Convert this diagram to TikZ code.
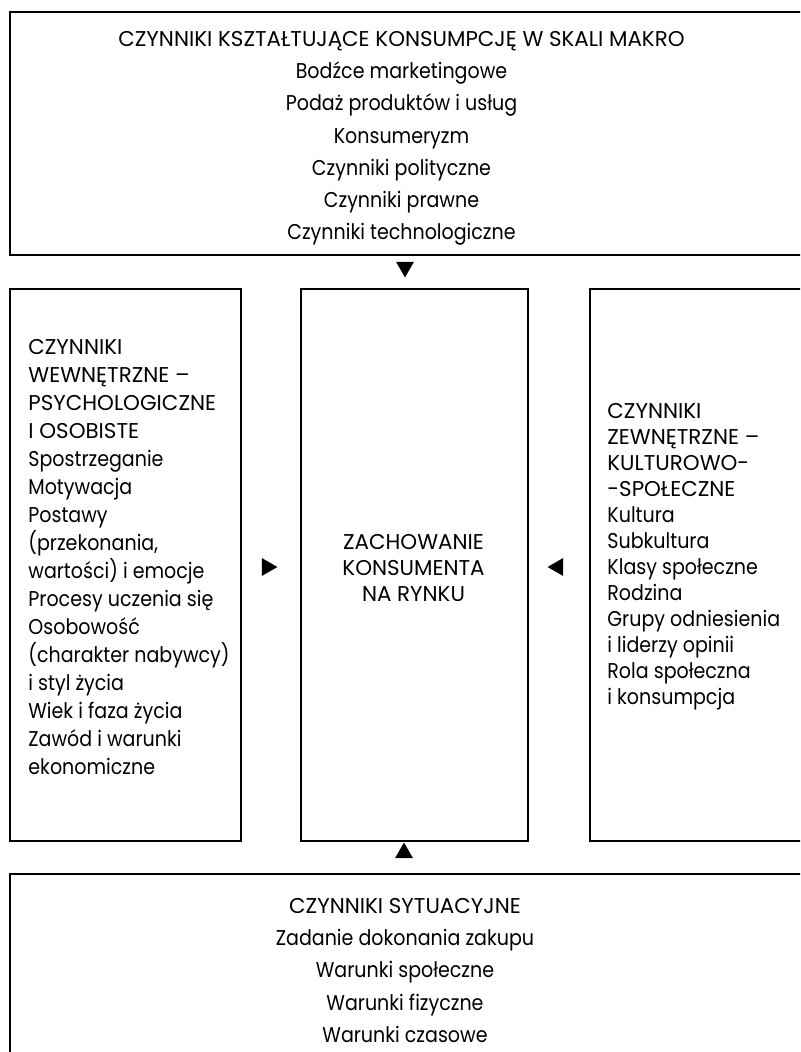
\documentclass[tikz,border=0pt]{standalone}
\usepackage{fontspec}
\setmainfont{Poppins}
\newfontfamily\lcfont{Poppins}[FakeStretch=0.89]
\usetikzlibrary{shapes.geometric}
\begin{document}
\begin{tikzpicture}[x=0.5pt,y=-0.5pt,
  box/.style={draw, line width=1pt, inner sep=0pt, anchor=north west},
  tri/.style={fill, draw=none, regular polygon, regular polygon sides=3, minimum size=10.4pt, inner sep=0pt},
  bigtxt/.style={inner sep=0pt, align=center, anchor=north, font=\fontsize{10.7}{16.1}\selectfont},
  lefttxt/.style={inner sep=0pt, align=left, anchor=north west, font=\fontsize{10.7}{14}\selectfont},
  sidetxt/.style={inner sep=0pt, align=left, anchor=north west, font=\fontsize{10.7}{13}\selectfont},
  midtxt/.style={inner sep=0pt, align=center, anchor=north, font=\fontsize{10.7}{13}\selectfont}]
\useasboundingbox (0,0) rectangle (800,1052);
\clip (0,0) rectangle (800,1052);
% boxes
\node[box, minimum width=402pt, minimum height=121.5pt] (macro) at (9,11) {};
\node[box, minimum width=115.5pt, minimum height=276pt] (wew) at (9,288) {};
\node[box, minimum width=113.5pt, minimum height=276pt] (zach) at (300,288) {};
\node[box, minimum width=115pt, minimum height=276pt] (zew) at (589,288) {};
\node[box, minimum width=402pt, minimum height=120pt] (syt) at (9,873) {};
% triangles
\node[tri, shape border rotate=180] (tdown) at (405,267) {};
\node[tri] (tup) at (404,853) {};
\node[tri, shape border rotate=-90] (tright) at (267,567) {};
\node[tri, shape border rotate=90] (tleft) at (558,567) {};
% texts
\node[bigtxt] (macrot) at (401.5,31) {CZYNNIKI KSZTAŁTUJĄCE KONSUMPCJĘ W SKALI MAKRO\\
{\lcfont Bodźce marketingowe}\\
{\lcfont Podaż produktów i usług}\\
{\lcfont Konsumeryzm}\\
{\lcfont Czynniki polityczne}\\
{\lcfont Czynniki prawne}\\
{\lcfont Czynniki technologiczne}};
\node[lefttxt] (wewt) at (28,338.5) {CZYNNIKI\\
WEWNĘTRZNE –\\
PSYCHOLOGICZNE\\
I OSOBISTE\\
{\lcfont Spostrzeganie}\\
{\lcfont Motywacja}\\
{\lcfont Postawy}\\
{\lcfont (przekonania,}\\
{\lcfont wartości) i emocje}\\
{\lcfont Procesy uczenia się}\\
{\lcfont Osobowość}\\
{\lcfont (charakter nabywcy)}\\
{\lcfont i styl życia}\\
{\lcfont Wiek i faza życia}\\
{\lcfont Zawód i warunki}\\
{\lcfont ekonomiczne}};
\node[midtxt] (zacht) at (413.5,533.5) {ZACHOWANIE\\
KONSUMENTA\\
NA RYNKU};
\node[sidetxt] (zewt) at (607,402.5) {CZYNNIKI\\
ZEWNĘTRZNE –\\
KULTUROWO-\\
-SPOŁECZNE\\
{\lcfont Kultura}\\
{\lcfont Subkultura}\\
{\lcfont Klasy społeczne}\\
{\lcfont Rodzina}\\
{\lcfont Grupy odniesienia}\\
{\lcfont i liderzy opinii}\\
{\lcfont Rola społeczna}\\
{\lcfont i konsumpcja}};
\node[bigtxt] (sytt) at (405,898) {CZYNNIKI SYTUACYJNE\\
{\lcfont Zadanie dokonania zakupu}\\
{\lcfont Warunki społeczne}\\
{\lcfont Warunki fizyczne}\\
{\lcfont Warunki czasowe}};
\end{tikzpicture}
\end{document}
